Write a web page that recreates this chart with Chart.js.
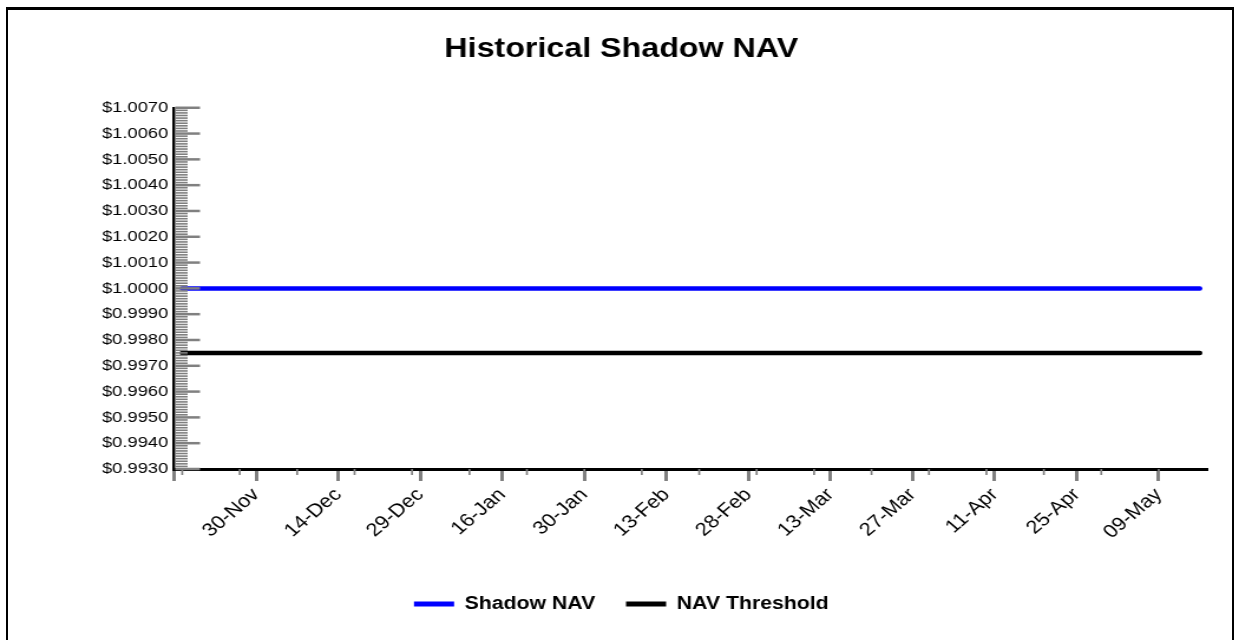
<!DOCTYPE html>
<html>
<head>
<meta charset="utf-8">
<script src="https://cdn.jsdelivr.net/npm/chart.js@4.4.0/dist/chart.umd.min.js"></script>
<style>
  html, body { margin: 0; padding: 0; background: #fff; overflow: hidden; }
  #frame { position: absolute; left: 6px; top: 7px; width: 1224px; height: 700px;
           border-top: 3px solid #000; border-left: 2px solid #000; border-right: 2px solid #000; }
  /* the source picture is stretched sideways, so draw narrow and stretch */
  #stretch { position: absolute; left: 0; top: 0; width: 1053px; height: 640px;
             transform: scaleX(1.18); transform-origin: 0 0; }
</style>
</head>
<body>
<div id="frame"></div>
<div id="stretch"><canvas id="navChart" width="1053" height="640"></canvas></div>
<script>
// x values are business-day index from the start of the period
const dayIndex = [1, 125];
const shadowNav = [1.0000, 1.0000];
const navThreshold = [0.9975, 0.9975];

const tickDays = [0, 10, 20, 30, 40, 50, 60, 70, 80, 90, 100, 110, 120];
const tickLabels = ['', '30-Nov', '14-Dec', '29-Dec', '16-Jan', '30-Jan', '13-Feb',
                    '28-Feb', '13-Mar', '27-Mar', '11-Apr', '25-Apr', '09-May'];

const FONT = '"Liberation Sans", Arial, sans-serif';
const TICK_GREY = '#808080';

// short tick marks: y axis minor/major drawn inside the plot, x axis minor every 7 days
const tickMarks = {
    id: 'tickMarks',
    afterDatasetsDraw(chart) {
        const { ctx, scales: { x, y } } = chart;
        const left = chart.chartArea.left + 1;
        ctx.save();
        ctx.strokeStyle = TICK_GREY;
        const steps = Math.round((y.max - y.min) / 0.0001);
        for (let i = 0; i <= steps; i++) {
            const py = y.getPixelForValue(y.min + i * 0.0001);
            const major = i % 10 === 0;
            ctx.lineWidth = major ? 2.5 : 1.6;
            ctx.beginPath();
            ctx.moveTo(left, py);
            ctx.lineTo(left + (major ? 21 : 10.5), py);
            ctx.stroke();
        }
        const base = chart.chartArea.bottom;
        ctx.lineWidth = 1.7;
        for (let d = 1; d <= 120; d += 7) {
            const px = x.getPixelForValue(d);
            ctx.beginPath();
            ctx.moveTo(px, base);
            ctx.lineTo(px, base + 6);
            ctx.stroke();
        }
        ctx.restore();
    }
};

const ctx = document.getElementById('navChart').getContext('2d');
new Chart(ctx, {
    type: 'line',
    data: {
        datasets: [{
            label: 'Shadow NAV',
            data: dayIndex.map((d, i) => ({ x: d, y: shadowNav[i] })),
            borderColor: '#0000ff',
            backgroundColor: '#0000ff',
            borderWidth: 4.5,
            borderCapStyle: 'round',
            pointRadius: 0,
            yAxisID: 'y',
        }, {
            label: 'NAV Threshold',
            data: dayIndex.map((d, i) => ({ x: d, y: navThreshold[i] })),
            borderColor: '#000000',
            backgroundColor: '#000000',
            borderWidth: 4.5,
            borderCapStyle: 'round',
            pointRadius: 0,
            yAxisID: 'y',
        }]
    },
    options: {
        responsive: false,
        animation: false,
        devicePixelRatio: 1,
        layout: { padding: { top: 0, left: 0, right: 0, bottom: 17 } },
        scales: {
            x: {
                type: 'linear',
                min: 0,
                max: 126,
                afterBuildTicks: s => { s.ticks = tickDays.map(v => ({ value: v })); },
                afterFit: s => { s.height = 100; },
                grid: {
                    drawOnChartArea: false,
                    drawTicks: true,
                    tickLength: 12,
                    tickColor: TICK_GREY,
                    tickWidth: 3,
                    color: TICK_GREY,
                },
                border: { display: true, color: '#000', width: 3 },
                ticks: {
                    autoSkip: false,
                    minRotation: 45,
                    maxRotation: 45,
                    padding: 3,
                    color: '#000',
                    font: { family: FONT, size: 18.5 },
                    callback: v => tickLabels[tickDays.indexOf(v)] || '',
                },
            },
            y: {
                min: 0.993,
                max: 1.007,
                afterFit: s => { s.width = 147.5; },
                grid: { drawOnChartArea: false, drawTicks: false },
                border: { display: true, color: '#000', width: 2.5 },
                ticks: {
                    stepSize: 0.001,
                    padding: 5,
                    color: '#000',
                    font: { family: FONT, size: 15.5 },
                    callback: v => '$' + v.toFixed(4),
                },
            },
            y2: {
                position: 'right',
                afterFit: s => { s.width = 29.3; },
                grid: { display: false },
                border: { display: false },
                ticks: { display: false },
            },
        },
        plugins: {
            title: {
                display: true,
                text: 'Historical Shadow NAV',
                color: '#000',
                font: { family: FONT, size: 27.3, weight: 'bold' },
                padding: { top: 33, bottom: 42 },
            },
            legend: {
                position: 'bottom',
                labels: {
                    boxWidth: 34,
                    boxHeight: 5,
                    padding: 26,
                    color: '#000',
                    font: { family: FONT, size: 18, weight: 'bold' },
                    generateLabels: chart => Chart.defaults.plugins.legend.labels.generateLabels(chart)
                        .map(l => ({ ...l, fillStyle: l.strokeStyle, lineWidth: 0 })),
                },
            },
            tooltip: { enabled: false },
        }
    },
    plugins: [tickMarks]
});
</script>
</body>
</html>
